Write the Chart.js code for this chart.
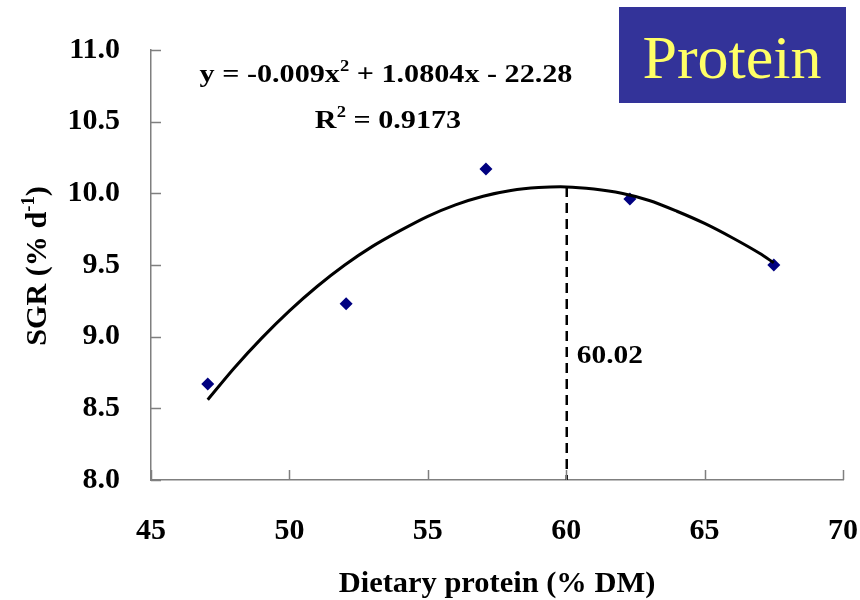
<!DOCTYPE html>
<html>
<head>
<meta charset="utf-8">
<script src="https://cdn.jsdelivr.net/npm/chart.js@4.4.0/dist/chart.umd.min.js"></script>
<style>
  html, body { margin: 0; padding: 0; background: #fff; }
  #wrap { width: 860px; height: 600px; }
</style>
</head>
<body>
<div id="wrap"><canvas id="sgrChart" width="860" height="600"></canvas></div>
<script>
// measured diets (x) and growth (y)
const proteinX = [47.05, 52.05, 57.1, 62.3, 67.5];
const sgrY = [8.67, 9.23, 10.17, 9.96, 9.50];

// quadratic trend line
const trendX = [47.05, 48, 49, 50, 51, 52, 53, 54, 55, 56, 57, 58, 59, 60, 61, 62, 63, 64, 65, 66, 67, 67.5];
const trendY = [8.56, 8.78, 8.99, 9.18, 9.35, 9.50, 9.63, 9.74, 9.84, 9.92, 9.98, 10.02, 10.04, 10.045, 10.03, 10.00, 9.95, 9.875, 9.79, 9.69, 9.58, 9.515];

// optimum marker
const optX = [60.02, 60.02];
const optY = [10.045, 8.0];

const xTicks = [45, 50, 55, 60, 65, 70];
const yTicks = [8.0, 8.5, 9.0, 9.5, 10.0, 10.5, 11.0];

const serif = "'Liberation Serif', 'Times New Roman', serif";
const axisGray = '#7f7f7f';

function pts(xs, ys) {
  return xs.map((x, i) => ({x: x, y: ys[i]}));
}

// bold text, optionally with superscript pieces, stretched sideways by sx
function drawSup(ctx, parts, x, y, size, align, sx) {
  const supSize = Math.round(size * 0.62);
  let w = 0;
  parts.forEach(p => {
    ctx.font = 'bold ' + (p.sup ? supSize : size) + 'px ' + serif;
    w += ctx.measureText(p.t).width;
  });
  ctx.save();
  ctx.translate(x, y);
  ctx.scale(sx, 1);
  let cx = align === 'center' ? -w / 2 : 0;
  ctx.textAlign = 'left';
  ctx.textBaseline = 'alphabetic';
  parts.forEach(p => {
    ctx.font = 'bold ' + (p.sup ? supSize : size) + 'px ' + serif;
    ctx.fillText(p.t, cx, p.sup ? -size * 0.42 : 0);
    cx += ctx.measureText(p.t).width;
  });
  ctx.restore();
}

const extras = {
  id: 'extras',
  afterDraw(chart) {
    const ctx = chart.ctx;
    const xs = chart.scales.x, ys = chart.scales.y;
    const area = chart.chartArea;
    ctx.save();
    // inward ticks
    ctx.strokeStyle = axisGray;
    ctx.lineWidth = 1.5;
    ctx.beginPath();
    yTicks.forEach(v => {
      const py = Math.round(ys.getPixelForValue(v)) + 0.5;
      ctx.moveTo(area.left, py);
      ctx.lineTo(area.left + 10, py);
    });
    xTicks.forEach(v => {
      const px = Math.round(xs.getPixelForValue(v)) + 0.5;
      ctx.moveTo(px, area.bottom);
      ctx.lineTo(px, area.bottom - 10);
    });
    ctx.stroke();

    ctx.fillStyle = '#000';
    // equation and R2
    drawSup(ctx, [{t: 'y = -0.009x'}, {t: '2', sup: true}, {t: ' + 1.0804x - 22.28'}], 386, 82, 26, 'center', 1.16);
    drawSup(ctx, [{t: 'R'}, {t: '2', sup: true}, {t: ' = 0.9173'}], 388, 128, 26, 'center', 1.16);

    // optimum label
    drawSup(ctx, [{t: '60.02'}], xs.getPixelForValue(optX[0]) + 10, 363, 26, 'left', 1.13);

    // axis titles
    drawSup(ctx, [{t: 'Dietary protein (% DM)'}], (area.left + area.right) / 2, 592, 29, 'center', 1.05);

    ctx.save();
    ctx.translate(46, 266);
    ctx.rotate(-Math.PI / 2);
    drawSup(ctx, [{t: 'SGR (% d'}, {t: '-1', sup: true}, {t: ')'}], 0, 0, 29, 'center', 1.04);
    ctx.restore();

    // Protein box
    ctx.fillStyle = '#333399';
    ctx.fillRect(619, 7, 227, 96);
    ctx.fillStyle = '#ffff66';
    ctx.font = '62px ' + serif;
    ctx.textAlign = 'center';
    ctx.fillText('Protein', 732, 78);
    ctx.restore();
  }
};

new Chart(document.getElementById('sgrChart'), {
  type: 'scatter',
  data: {
    datasets: [
      {
        label: 'trend',
        data: pts(trendX, trendY),
        showLine: true,
        borderColor: '#000',
        borderWidth: 3,
        pointRadius: 0,
        tension: 0.3
      },
      {
        label: 'optimum',
        data: pts(optX, optY),
        showLine: true,
        borderColor: '#000',
        borderWidth: 2.5,
        borderDash: [10, 6],
        pointRadius: 0
      },
      {
        label: 'SGR',
        data: pts(proteinX, sgrY),
        pointStyle: 'rectRot',
        pointRadius: 6.5,
        pointBackgroundColor: '#000080',
        pointBorderWidth: 0,
        borderColor: '#000080'
      }
    ]
  },
  options: {
    responsive: false,
    animation: false,
    devicePixelRatio: 1,
    events: [],
    layout: { padding: { top: 50, right: 17, left: 0, bottom: 0 } },
    plugins: { legend: { display: false }, tooltip: { enabled: false } },
    scales: {
      x: {
        type: 'linear',
        min: 45, max: 70,
        afterFit: s => { s.height = 120; s.paddingLeft = 0; s.paddingRight = 0; },
        afterBuildTicks: s => { s.ticks = xTicks.map(v => ({value: v})); },
        grid: { display: false, drawTicks: false },
        border: { display: true, color: axisGray, width: 1.5 },
        ticks: {
          color: '#000',
          padding: 33,
          font: { family: serif, size: 30, weight: 'bold' }
        }
      },
      y: {
        min: 8, max: 11,
        afterFit: s => { s.width = 151; s.paddingTop = 0; s.paddingBottom = 0; },
        afterBuildTicks: s => { s.ticks = yTicks.map(v => ({value: v})); },
        grid: { display: false, drawTicks: false },
        border: { display: true, color: axisGray, width: 1.5 },
        ticks: {
          color: '#000',
          padding: 31,
          callback: v => Number(v).toFixed(1),
          font: { family: serif, size: 30, weight: 'bold' }
        }
      }
    }
  },
  plugins: [extras]
});
</script>
</body>
</html>
